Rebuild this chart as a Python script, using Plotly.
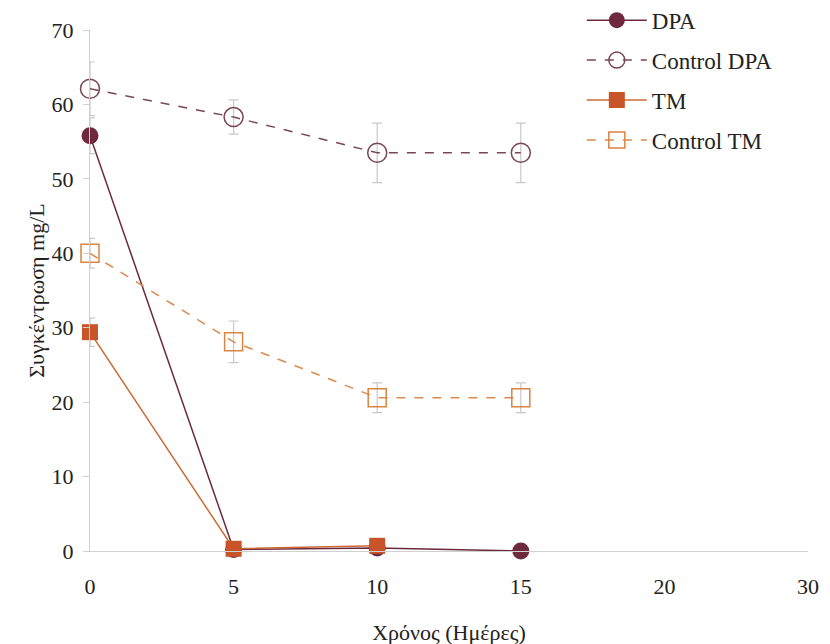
import plotly.graph_objects as go

days = ["0", "5", "10", "15", "20", "30"]
dpa = [55.8, 0.2, 0.4, 0.0]
dpa_err = [2.4, 0.2, 0.2, 0.1]
ctrl_dpa = [62.1, 58.3, 53.5, 53.5]
ctrl_dpa_err = [3.6, 2.3, 4.0, 4.0]
tm = [29.4, 0.3, 0.7]
tm_err = [1.9, 0.2, 0.3]
ctrl_tm = [40.0, 28.1, 20.6, 20.6]
ctrl_tm_err = [2.0, 2.8, 2.0, 2.0]

err_col = "#c8c8c8"
font = "Liberation Serif, Times New Roman, serif"

def errs(v):
    return dict(type="data", array=v, color=err_col, thickness=1.2, width=5)

fig = go.Figure()
fig.add_trace(go.Scatter(
    x=days[:len(dpa)], y=dpa, name="DPA", mode="lines+markers",
    line=dict(color="#6e2a3c", width=1.5),
    marker=dict(symbol="circle", size=17, color="#6e2a3c"),
    error_y=errs(dpa_err), cliponaxis=False, legendgroup="a"))
fig.add_trace(go.Scatter(
    x=days[:len(ctrl_dpa)], y=ctrl_dpa, name="Control DPA", mode="lines+markers",
    line=dict(color="#7b4654", width=1.5, dash="dash"),
    marker=dict(symbol="circle-open", size=19, color="#7b4654", line=dict(width=1.5)),
    error_y=errs(ctrl_dpa_err), cliponaxis=False, legendgroup="b"))
fig.add_trace(go.Scatter(
    x=days[:len(tm)], y=tm, name="TM", mode="lines+markers",
    line=dict(color="#cc6a35", width=1.5),
    marker=dict(symbol="square", size=16, color="#c9542a"),
    error_y=errs(tm_err), cliponaxis=False, legendgroup="c"))
fig.add_trace(go.Scatter(
    x=days[:len(ctrl_tm)], y=ctrl_tm, name="Control TM", mode="lines+markers",
    line=dict(color="#d98a4e", width=1.5, dash="dash"),
    marker=dict(symbol="square-open", size=18, color="#d9843f", line=dict(width=1.5)),
    error_y=errs(ctrl_tm_err), cliponaxis=False, legendgroup="d"))

fig.update_layout(
    width=830, height=644,
    margin=dict(l=82, r=30, t=22, b=101, autoexpand=False),
    paper_bgcolor="white", plot_bgcolor="white",
    font=dict(family=font, size=22, color="#222222"),
    showlegend=True,
    legend=dict(x=0.685, y=1.06, xanchor="left", yanchor="top",
                font=dict(family=font, size=23, color="#222222"),
                tracegroupgap=7, bgcolor="rgba(0,0,0,0)", itemwidth=60),
    xaxis=dict(type="category", categoryorder="array", categoryarray=days,
               range=[0, 5], showgrid=False, zeroline=False, automargin=False,
               showline=True, linecolor="#d0d0d0", linewidth=1,
               ticks="", ticklabelstandoff=16,
               title=dict(text="Χρόνος (Ημέρες)", standoff=26, font=dict(size=22))),
    yaxis=dict(range=[0, 70], dtick=10, showgrid=False, zeroline=False, automargin=False,
               showline=True, linecolor="#d0d0d0", linewidth=1,
               ticks="outside", ticklen=6, tickcolor="#d0d0d0",
               ticklabelstandoff=5,
               title=dict(text="Συγκέντρωση mg/L", standoff=0, font=dict(size=22))),
)

fig.write_html("out.html")
